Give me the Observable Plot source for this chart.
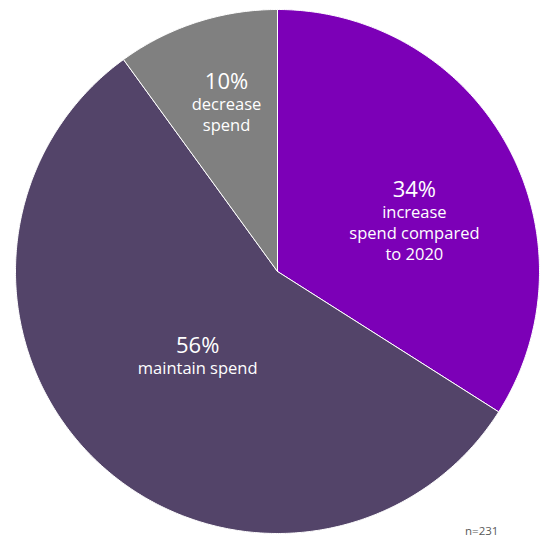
<!DOCTYPE html>
<html>
<head>
<meta charset="utf-8">
<script src="https://cdn.jsdelivr.net/npm/d3@7"></script>
<script src="https://cdn.jsdelivr.net/npm/@observablehq/plot@0.6"></script>
<style>
  body { margin: 0; background: #fff; }
  #chart { position: relative; width: 542px; height: 538px; }
  #note { position: absolute; left: 465px; top: 523px; font: 11.5px "Open Sans", sans-serif; color: #595959; }
</style>
</head>
<body>
<div id="chart"></div>
<script>
// ---- data ----
const categories = ["increase", "maintain", "decrease"];
const shares = [34, 56, 10];
const percentLabels = ["34%", "56%", "10%"];
const textLabels = ["increase\nspend compared\nto 2020", "maintain spend", "decrease\nspend"];
const colors = ["#7C00B7", "#534469", "#808080"];
const sampleNote = "n=231";

// ---- layout (label placement in polar terms: fraction of radius, angle shift in degrees) ----
const labelRadius = [0.607, 0.418, 0.747];
const labelAngleShift = [-1.8, 3.6, 2.9];

const total = d3.sum(shares);
let acc = 0;
const slices = categories.map((c, i) => {
  const a0 = acc / total * 2 * Math.PI;
  acc += shares[i];
  const a1 = acc / total * 2 * Math.PI;
  return {key: c, a0, a1, i};
});

// polygon points per slice (angle measured clockwise from 12 o'clock)
const pts = [];
for (const s of slices) {
  pts.push({key: s.key, x: 0, y: 0});
  const n = Math.max(2, Math.ceil((s.a1 - s.a0) / (Math.PI / 360)));
  for (let k = 0; k <= n; k++) {
    const a = s.a0 + (s.a1 - s.a0) * k / n;
    pts.push({key: s.key, x: Math.sin(a), y: Math.cos(a)});
  }
  pts.push({key: s.key, x: 0, y: 0});
}

const labels = slices.map(s => {
  const a = (s.a0 + s.a1) / 2 + labelAngleShift[s.i] * Math.PI / 180;
  const r = labelRadius[s.i];
  return {key: s.key, x: r * Math.sin(a), y: r * Math.cos(a), pct: percentLabels[s.i], txt: textLabels[s.i]};
});

const font = "'Open Sans', sans-serif";

const chart = Plot.plot({
  width: 542,
  height: 538,
  margin: 0,
  style: {background: "white"},
  x: {domain: [-1, 1], range: [15, 539], axis: null},
  y: {domain: [-1, 1], range: [533, 9], axis: null},
  color: {domain: categories, range: colors},
  marks: [
    Plot.line(pts, {x: "x", y: "y", z: "key", fill: "key", stroke: "white", strokeWidth: 1, curve: "linear"}),
    Plot.text(labels, {x: "x", y: "y", text: "pct", fill: "white", fontSize: 22, fontFamily: font, lineAnchor: "middle", dy: -1}),
    Plot.text(labels, {x: "x", y: "y", text: "txt", fill: "white", fontSize: 16.5, fontFamily: font, lineAnchor: "top", lineHeight: 1.28, dy: 12.5})
  ]
});
document.getElementById("chart").appendChild(chart);
const note = document.createElement("div");
note.id = "note";
note.textContent = sampleNote;
document.getElementById("chart").appendChild(note);
</script>
</body>
</html>
